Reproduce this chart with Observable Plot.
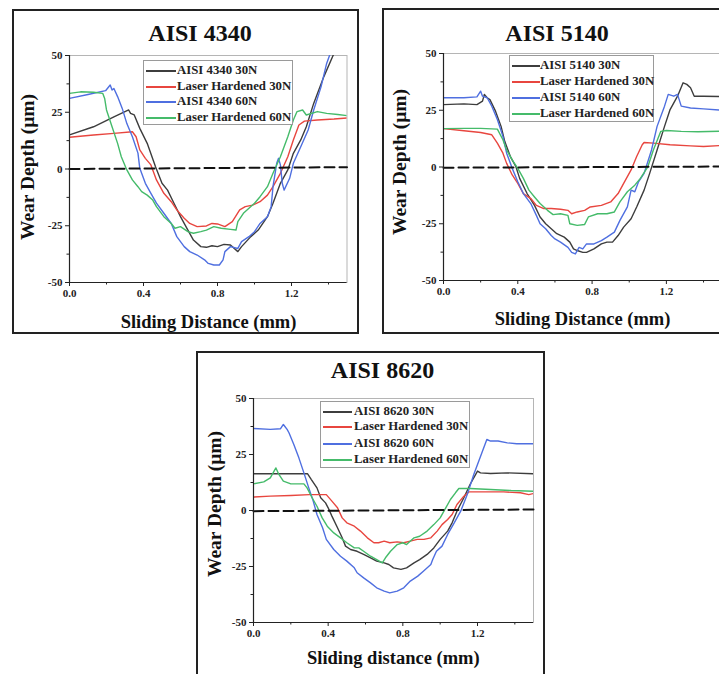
<!DOCTYPE html>
<html><head><meta charset="utf-8">
<script src="https://cdn.jsdelivr.net/npm/d3@7"></script>
<script src="https://cdn.jsdelivr.net/npm/@observablehq/plot@0.6"></script>
<style>
html,body{margin:0;padding:0;background:#fff;width:719px;height:674px;overflow:hidden;}
body{position:relative;font-family:"Liberation Serif","DejaVu Serif",serif;color:#111;}
.border{position:absolute;border:2px solid #222;box-sizing:border-box;}
.abs{position:absolute;white-space:nowrap;line-height:1;font-weight:bold;}
.title{font-size:24px;transform:translateX(-50%);}
.xlab{font-size:18.5px;transform:translateX(-50%);}
.ylab{font-size:19.5px;transform:translate(-50%,-50%) rotate(-90deg);}
.legend{position:absolute;border:1px solid #9a9a9a;background:#fff;box-sizing:border-box;}
.sw{position:absolute;height:2px;}
.lt{position:absolute;font-size:12.8px;font-weight:bold;line-height:1;white-space:nowrap;color:#222;}
.plotbox{position:absolute;overflow:visible;}
.plotbox svg{overflow:visible;}
.plotbox svg text{font-family:"Liberation Serif",serif !important;font-weight:bold;}
</style>
</head><body>
<script>
// ---------- data ----------
const xTicks = [0, 0.4, 0.8, 1.2];
const xMinor = [0.2, 0.6, 1.0, 1.4];
const yTicks = [-50, -25, 0, 25, 50];
const yMinor = [-37.5, -12.5, 12.5, 37.5];
const seriesColors = ["#3d3d3d", "#e8463f", "#4f6fe0", "#45bb6a"];

const titles = ["AISI 4340", "AISI 5140", "AISI 8620"];
const xLabels = ["Sliding Distance (mm)", "Sliding Distance (mm)", "Sliding distance (mm)"];
const yLabel = "Wear Depth (\u03bcm)";
const legend4340 = ["AISI 4340 30N", "Laser Hardened 30N", "AISI 4340 60N", "Laser Hardened 60N"];
const legend5140 = ["AISI 5140 30N", "Laser Hardened 30N", "AISI 5140 60N", "Laser Hardened 60N"];
const legend8620 = ["AISI 8620 30N", "Laser Hardened 30N", "AISI 8620 60N", "Laser Hardened 60N"];

// AISI 4340
const a4340_30N = [[0,15],[0.13,18.6],[0.24,23],[0.32,26],[0.33,24.5],[0.35,23.8],[0.38,17.9],[0.42,11.3],[0.465,1],[0.5,-6.3],[0.53,-9.3],[0.564,-15],[0.6,-21],[0.64,-26.9],[0.67,-31.3],[0.71,-34.2],[0.74,-34.5],[0.77,-33.8],[0.8,-34.2],[0.835,-33.2],[0.87,-33.5],[0.91,-36.4],[0.93,-34.2],[0.98,-29.8],[1.02,-26.9],[1.07,-21],[1.1,-15.1],[1.14,-6.3],[1.18,-0.4],[1.21,6.9],[1.25,12.8],[1.28,18.6],[1.32,28.9],[1.375,40.7],[1.43,51]];
const a4340_LH30N = [[0,14],[0.13,15],[0.24,15.7],[0.34,16.4],[0.36,14.2],[0.38,8.4],[0.41,4.7],[0.44,1.8],[0.47,-4.8],[0.51,-10.7],[0.55,-14.4],[0.58,-18],[0.62,-21.7],[0.65,-24],[0.69,-25.4],[0.74,-25.1],[0.77,-24],[0.8,-24.2],[0.84,-25.4],[0.88,-23.2],[0.92,-18],[0.95,-16.6],[0.99,-15.9],[1.03,-14.4],[1.07,-11.5],[1.1,-7.8],[1.14,-1.9],[1.18,5.4],[1.21,12.8],[1.24,19.4],[1.27,21.1],[1.34,21.6],[1.43,22],[1.5,22.5]];
const a4340_60N = [[0,31.1],[0.1,32.8],[0.195,34.5],[0.22,37],[0.23,34.8],[0.24,35.5],[0.26,31.9],[0.285,26.7],[0.31,20],[0.34,14.2],[0.37,7],[0.38,0.3],[0.41,-6.3],[0.44,-10.7],[0.47,-15],[0.51,-19.5],[0.55,-24],[0.58,-29.8],[0.62,-34.2],[0.65,-36.4],[0.69,-37.9],[0.73,-40],[0.75,-41.6],[0.78,-42.3],[0.81,-42.3],[0.83,-40],[0.84,-36.4],[0.87,-34.2],[0.91,-35],[0.93,-32],[0.97,-29.8],[1.0,-27.6],[1.03,-24],[1.07,-21],[1.09,-16.6],[1.1,-7.8],[1.12,2.5],[1.13,4.7],[1.14,1.8],[1.15,-6.3],[1.16,-9.3],[1.19,-4.1],[1.21,2.5],[1.25,9.8],[1.29,17.2],[1.32,26],[1.36,36.3],[1.39,46.5],[1.41,51]];
const a4340_LH60N = [[0,33.3],[0.06,34],[0.13,33.8],[0.18,33.3],[0.19,31.1],[0.2,26],[0.23,18.6],[0.26,11.3],[0.28,5.4],[0.31,-0.4],[0.34,-4.8],[0.37,-7.8],[0.39,-10],[0.42,-11.5],[0.45,-13.7],[0.47,-16.6],[0.51,-21],[0.55,-24],[0.57,-26.1],[0.6,-25.4],[0.64,-27.6],[0.67,-28.3],[0.71,-27.6],[0.74,-26.9],[0.78,-25.4],[0.82,-26.1],[0.87,-26.6],[0.9,-26.9],[0.91,-23.2],[0.94,-19.5],[1.0,-15.1],[1.03,-12.2],[1.07,-7.8],[1.1,-1.9],[1.14,5.4],[1.18,14.2],[1.21,21.6],[1.23,25.3],[1.26,26],[1.28,23.8],[1.34,25.3],[1.39,24.5],[1.45,24],[1.5,23.5]];
const a4340_zero = [[0,0],[1.5,0.8]];

// AISI 5140
const a5140_30N = [[0,27.5],[0.11,27.8],[0.18,27.5],[0.21,29],[0.22,32],[0.235,30.5],[0.25,29.7],[0.28,24.6],[0.31,17.9],[0.33,11.2],[0.36,4.6],[0.39,0.1],[0.41,-5],[0.45,-11.7],[0.49,-16.9],[0.52,-22],[0.55,-25],[0.58,-27.2],[0.61,-29.4],[0.65,-30.9],[0.68,-33.1],[0.7,-36.1],[0.72,-36.8],[0.75,-37.6],[0.77,-37.6],[0.81,-36.1],[0.85,-33.9],[0.88,-33.1],[0.91,-33.1],[0.94,-30.2],[0.97,-26.5],[1.01,-22.8],[1.04,-17.6],[1.08,-10.2],[1.11,-2.8],[1.15,7.5],[1.19,17.9],[1.22,25.3],[1.26,31.2],[1.29,37.1],[1.31,36.4],[1.33,34.9],[1.35,31.2],[1.4,31.2],[1.5,31]];
const a5140_LH30N = [[0,16.9],[0.11,16],[0.2,15.2],[0.26,14.2],[0.29,10.5],[0.32,6.1],[0.34,1.6],[0.37,-3.5],[0.4,-7.2],[0.43,-11.7],[0.47,-13.9],[0.5,-16.9],[0.54,-18.3],[0.58,-18.3],[0.63,-18.6],[0.67,-19.1],[0.69,-20.6],[0.72,-19.8],[0.76,-19.1],[0.79,-17.6],[0.85,-16.9],[0.9,-15.4],[0.94,-11.7],[0.97,-7.2],[1.01,-1.3],[1.04,4.6],[1.07,9.8],[1.08,10.8],[1.13,10.5],[1.22,9.8],[1.33,9.3],[1.4,9.0],[1.5,9.5]];
const a5140_60N = [[0,30.5],[0.11,30.5],[0.18,30.9],[0.2,33.4],[0.21,31.2],[0.235,30.5],[0.26,26.8],[0.29,20.9],[0.32,13.5],[0.34,6.1],[0.37,-0.6],[0.4,-6.5],[0.43,-11.7],[0.47,-16.1],[0.5,-21.3],[0.52,-25],[0.55,-27.2],[0.58,-30.2],[0.6,-31.7],[0.63,-33.1],[0.67,-35.4],[0.69,-37.6],[0.71,-38.3],[0.73,-35.4],[0.75,-36.1],[0.77,-33.9],[0.81,-33.9],[0.85,-32.4],[0.88,-30.9],[0.92,-28.7],[0.95,-23.5],[0.99,-17.6],[1.01,-10.2],[1.03,-10.9],[1.05,-6.5],[1.08,-2.8],[1.12,7.5],[1.15,17.9],[1.19,26.8],[1.21,32],[1.24,31.2],[1.26,32],[1.28,26.8],[1.33,26],[1.4,25.6],[1.5,25]];
const a5140_LH60N = [[0,16.9],[0.11,17],[0.2,17],[0.29,16.7],[0.32,12],[0.34,7.5],[0.37,3.1],[0.4,-0.6],[0.43,-5],[0.46,-10.2],[0.49,-13.2],[0.52,-16.1],[0.56,-19.1],[0.59,-21],[0.63,-20.6],[0.67,-21.3],[0.68,-25],[0.72,-25.7],[0.76,-25.3],[0.78,-22],[0.83,-20.6],[0.88,-20.6],[0.92,-19.8],[0.95,-15.4],[0.99,-10.9],[1.03,-8],[1.06,-5],[1.1,0.1],[1.13,7.5],[1.17,15.7],[1.2,16.1],[1.28,15.7],[1.37,15.5],[1.5,15.8]];
const a5140_zero = [[0,-0.3],[1.5,0.2]];

// AISI 8620
const a8620_30N = [[0,16.4],[0.1,16.4],[0.2,16.4],[0.29,16.4],[0.31,13.8],[0.34,10.1],[0.36,5.7],[0.386,3.4],[0.4,1.2],[0.42,-2.5],[0.45,-7.7],[0.475,-12.2],[0.493,-15.9],[0.52,-17.4],[0.555,-18.2],[0.59,-19.6],[0.627,-21.1],[0.66,-22.6],[0.7,-23.4],[0.725,-24.1],[0.75,-25.6],[0.79,-26.3],[0.82,-25.6],[0.86,-23.4],[0.89,-21.9],[0.93,-19.6],[0.966,-16.7],[1.0,-12.9],[1.04,-9.2],[1.064,-5.5],[1.09,-0.3],[1.127,5.7],[1.16,11.6],[1.2,17.6],[1.216,16.8],[1.27,16.5],[1.36,16.8],[1.5,16.4]];
const a8620_LH30N = [[0,6],[0.09,6.4],[0.2,6.7],[0.3,7.1],[0.39,7.1],[0.42,4.2],[0.45,1.2],[0.475,-3.3],[0.5,-5.5],[0.54,-7],[0.573,-9.2],[0.61,-12.2],[0.645,-14.4],[0.67,-14.4],[0.7,-13.7],[0.73,-14.4],[0.77,-14],[0.805,-14.4],[0.84,-13.7],[0.877,-12.9],[0.913,-12.9],[0.95,-12.2],[0.984,-9.2],[1.01,-6.3],[1.04,-4],[1.064,-1.8],[1.09,2.7],[1.127,6.4],[1.154,8.3],[1.23,8.3],[1.34,8.3],[1.43,7.9],[1.475,7.1],[1.5,7.6]];
const a8620_60N = [[0,36.6],[0.09,36.2],[0.145,36.5],[0.16,38.4],[0.18,36.2],[0.19,34.7],[0.216,29.5],[0.243,23.5],[0.27,16.8],[0.296,10.1],[0.32,4.2],[0.34,-1.8],[0.37,-7.7],[0.39,-12.9],[0.43,-17.4],[0.466,-20.4],[0.5,-22.6],[0.54,-25.6],[0.555,-27.8],[0.59,-30.1],[0.627,-32.3],[0.66,-34.5],[0.7,-36],[0.73,-36.8],[0.77,-36],[0.805,-34.5],[0.84,-31.5],[0.88,-29.3],[0.91,-27.1],[0.95,-24.1],[0.96,-21.9],[0.98,-18.2],[1.01,-15.9],[1.04,-10.7],[1.07,-6.3],[1.11,-0.3],[1.145,7.1],[1.18,16.1],[1.22,25],[1.25,31.7],[1.27,31],[1.31,31],[1.36,30.2],[1.41,29.8],[1.5,29.8]];
const a8620_LH60N = [[0,11.9],[0.055,12.8],[0.09,14.6],[0.12,19],[0.136,16.1],[0.16,13.1],[0.2,11.9],[0.27,11.9],[0.287,10.1],[0.314,5.7],[0.34,1.9],[0.368,-3.3],[0.395,-7],[0.43,-10],[0.466,-12.2],[0.5,-14.4],[0.54,-16.7],[0.564,-16.7],[0.59,-18.2],[0.627,-20.4],[0.66,-21.9],[0.69,-23.4],[0.707,-21.1],[0.734,-18.2],[0.77,-15.2],[0.8,-14.4],[0.82,-15.2],[0.86,-12.2],[0.89,-11.5],[0.93,-9.2],[0.966,-6.3],[1.0,-3.3],[1.03,1.2],[1.055,4.9],[1.082,7.9],[1.1,9.8],[1.16,9.8],[1.27,9.4],[1.38,8.9],[1.5,8.6]];
const a8620_zero = [[0,-0.3],[1.5,0.45]];

// ---------- layout (pixels) ----------
const panels = [
  {title: titles[0], xlabel: xLabels[0], legend: legend4340,
   series: [a4340_30N, a4340_LH30N, a4340_60N, a4340_LH60N], zero: a4340_zero,
   border: {l:12, t:9, w:347, h:325},
   svg: {l:12, t:10, w:346, h:323, ml:57, mr:11.5, mt:45, mb:51},
   titleXY: [200, 20.6], xlabXY: [208.5, 312.8], ylabXY: [28, 166.5],
   leg: {l:143, t:60, w:150, h:65, rows:[10, 26, 41, 57], swL:2, swW:30, txL:33}},
  {title: titles[1], xlabel: xLabels[1], legend: legend5140,
   series: [a5140_30N, a5140_LH30N, a5140_60N, a5140_LH60N], zero: a5140_zero,
   border: {l:382, t:8, w:360, h:326},
   svg: {l:383, t:8, w:350, h:325, ml:60, mr:11.4, mt:45, mb:53},
   titleXY: [557, 20.6], xlabXY: [582.5, 309.5], ylabXY: [400, 162],
   leg: {l:509, t:55, w:145, h:67, rows:[10, 26, 42, 58], swL:2, swW:28, txL:30}},
  {title: titles[2], xlabel: xLabels[2], legend: legend8620,
   series: [a8620_30N, a8620_LH30N, a8620_60N, a8620_LH60N], zero: a8620_zero,
   border: {l:196, t:351, w:349, h:340},
   svg: {l:197, t:352, w:347, h:330, ml:56, mr:11, mt:46, mb:60},
   titleXY: [382.5, 358.2], xlabXY: [393.3, 648.5], ylabXY: [214.5, 504],
   leg: {l:320, t:401, w:150, h:67, rows:[10, 25, 42, 58], swL:2, swW:29, txL:33}}
];

function el(cls, css, text, parent) {
  const d = document.createElement("div");
  d.className = cls;
  Object.assign(d.style, css);
  if (text != null) d.textContent = text;
  (parent || document.body).appendChild(d);
  return d;
}

for (const p of panels) {
  el("border", {left: p.border.l+"px", top: p.border.t+"px", width: p.border.w+"px", height: p.border.h+"px"});
  const box = el("plotbox", {left: p.svg.l+"px", top: p.svg.t+"px", width: p.svg.w+"px", height: p.svg.h+"px"});
  const font = {fontFamily: "Liberation Serif", fontWeight: "bold", fontSize: 11};
  const marks = [
    Plot.frame({stroke: "#b5b5b5", strokeWidth: 1}),
    ...p.series.map((s, i) => Plot.line(s, {x: d => d[0], y: d => d[1], stroke: seriesColors[i], strokeWidth: 1.4, clip: true})),
    Plot.line(p.zero, {x: d => d[0], y: d => d[1], stroke: "#111", strokeWidth: 2, strokeDasharray: "10,5"}),
    Plot.ruleX([0], {stroke: "#222", strokeWidth: 1.2}),
    Plot.ruleY([-50], {stroke: "#222", strokeWidth: 1.2}),
    Plot.axisY({ticks: yMinor, tickSize: 2.5, tickFormat: () => "", stroke: "#222"}),
    Plot.axisY({ticks: yTicks, tickSize: 4, tickPadding: 3, tickFormat: d => String(d), stroke: "#222", fill: "#222", ...font}),
    Plot.axisX({ticks: xMinor, tickSize: 2.5, tickFormat: () => "", stroke: "#222"}),
    Plot.axisX({ticks: xTicks, tickSize: 4, tickPadding: 3, tickFormat: d3.format(".1f"), stroke: "#222", fill: "#222", ...font})
  ];
  const svg = Plot.plot({
    width: p.svg.w, height: p.svg.h,
    marginLeft: p.svg.ml, marginRight: p.svg.mr, marginTop: p.svg.mt, marginBottom: p.svg.mb,
    x: {domain: [0, 1.5], label: null},
    y: {domain: [-50, 50], label: null},
    style: {fontFamily: "Liberation Serif, serif", fontSize: "11px", fontWeight: "bold", background: "transparent", overflow: "visible"},
    marks
  });
  svg.style.maxWidth = "none";
  box.appendChild(svg);

  el("abs title", {left: p.titleXY[0]+"px", top: p.titleXY[1]+"px"}, p.title);
  el("abs xlab", {left: p.xlabXY[0]+"px", top: p.xlabXY[1]+"px"}, p.xlabel);
  el("abs ylab", {left: p.ylabXY[0]+"px", top: p.ylabXY[1]+"px"}, yLabel);

  const lg = el("legend", {left: p.leg.l+"px", top: p.leg.t+"px", width: p.leg.w+"px", height: p.leg.h+"px"});
  p.legend.forEach((name, i) => {
    const y = p.leg.rows[i];
    el("sw", {left: p.leg.swL+"px", width: p.leg.swW+"px", top: (y - 1)+"px", background: seriesColors[i]}, null, lg);
    el("lt", {left: p.leg.txL+"px", top: (y - 7)+"px"}, name, lg);
  });
}
</script>
</body></html>
